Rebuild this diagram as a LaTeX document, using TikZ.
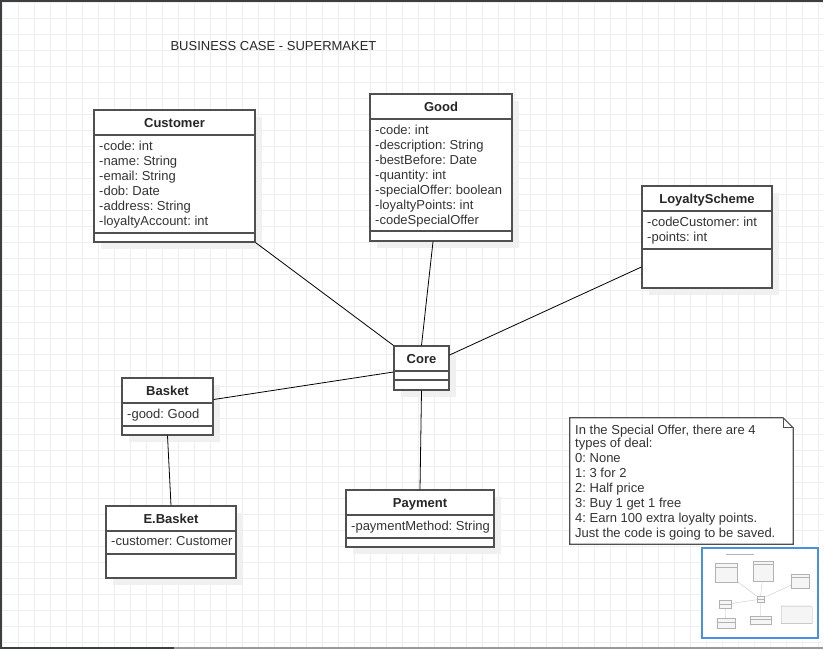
\documentclass[tikz,border=0pt]{standalone}
\usepackage{fontspec}
\setmainfont{Liberation Sans}
\usetikzlibrary{fit,calc,shadows}
\frenchspacing

\definecolor{gridgray}{RGB}{238,238,238}
\definecolor{linegray}{RGB}{80,80,80}
\definecolor{textgray}{RGB}{51,51,51}
\definecolor{shadegray}{RGB}{240,240,240}
\definecolor{framegray}{RGB}{60,63,66}
\definecolor{viewblue}{RGB}{74,144,226}

% name, left, right, top, header line, separator, bottom, title, attributes
\newcommand{\umlclass}[9]{%
  \node[classbox, fit={(#2,#4) (#3,#7)}] (#1) {};
  \draw[classline] (#2,#5) -- (#3,#5) (#2,#6) -- (#3,#6);
  \node[classtitle] (#1-title) at ({(#2+#3)/2},{(#4+#5)/2}) {#8};
  \node[classattr] (#1-attr) at ({#2+5},{#5+5.5}) {#9};
}

\begin{document}
\begin{tikzpicture}[x=1pt,y=-1pt,
    classbox/.style={draw=linegray, line width=1.2pt, fill=white, inner sep=0pt,
      drop shadow={shadow xshift=7pt, shadow yshift=-7pt, fill=shadegray, opacity=1}},
    classline/.style={draw=linegray, line width=1.2pt},
    classtitle/.style={font=\fontsize{13}{15}\selectfont\bfseries, text=black!85,
      text height=9.4pt, text depth=0pt, inner sep=0pt},
    classattr/.style={font=\fontsize{13}{15}\selectfont, text=textgray,
      anchor=north west, align=left, inner sep=0pt},
    link/.style={draw=black, line width=0.8pt},
    gridline/.style={draw=gridgray, line width=0.8pt},
    minibox/.style={draw=black!30, fill=black!4, line width=0.3pt},
    minilink/.style={draw=black!25, line width=0.3pt}]

    \useasboundingbox (0,0) rectangle (840,649);
    \fill[white] (0,0) rectangle (840,649);

    \foreach \gx in {2,18,...,818} \draw[gridline] (\gx,2) -- (\gx,647);
    \foreach \gy in {2,18,...,642} \draw[gridline] (2,\gy) -- (823,\gy);
    \fill[framegray] (0,0) rectangle (823,2);
    \fill[framegray] (0,0) rectangle (2,649);
    \fill[black!40] (2,647) rectangle (823,649);
    \fill[framegray] (0,647) rectangle (174,649);

    \node[font=\fontsize{13}{15}\selectfont, text=black!85, inner sep=0pt] (title) at (273.5,46) {BUSINESS CASE - SUPERMAKET};

    \umlclass{customer}{94}{255}{110}{135}{233}{242}{Customer}{-code: int\\-name: String\\-email: String\\-dob: Date\\-address: String\\-loyaltyAccount: int}
    \umlclass{good}{370}{512}{94}{119}{231}{241}{Good}{-code: int\\-description: String\\-bestBefore: Date\\-quantity: int\\-specialOffer: boolean\\-loyaltyPoints: int\\-codeSpecialOffer}
    \umlclass{loyalty}{642}{772}{186}{211}{249}{288}{LoyaltyScheme}{-codeCustomer: int\\-points: int}
    \umlclass{core}{394}{449}{346}{371}{380}{390}{Core}{}
    \umlclass{basket}{122}{213}{378}{403}{426}{435}{Basket}{-good: Good}
    \umlclass{ebasket}{106}{236}{506}{531}{554}{578}{E.Basket}{-customer: Customer}
    \umlclass{payment}{346}{494}{490}{515}{538}{547}{Payment}{-paymentMethod: String}

    \draw[link] (customer.south east) -- (core.north west);
    \draw[link] ([xshift=-8pt]good.south) -- (core.north);
    \draw[link] ([yshift=-30pt]loyalty.west) -- ([yshift=13pt]core.east);
    \draw[link] ([yshift=7pt]basket.east) -- ([yshift=-4pt]core.west);
    \draw[link] (basket.south) -- (ebasket.north);
    \draw[link] (core.south) -- (payment.north);

    \node[inner sep=0pt, fit={(570,418) (793,544)}] (notebox) {};
    \draw[classline, fill=white] (notebox.north west) -- ([xshift=-10pt]notebox.north east)
      -- ([yshift=-10pt]notebox.north east) -- (notebox.south east) -- (notebox.south west) -- cycle;
    \draw[draw=linegray, line width=0.8pt] ([xshift=-10pt]notebox.north east) |- ([yshift=-10pt]notebox.north east);
    \node[classattr] (note) at (575,424.5) {In the Special Offer, there are 4\\[-2pt]types of deal:\\0: None\\1: 3 for 2\\2: Half price\\3: Buy 1 get 1 free\\4: Earn 100 extra loyalty points.\\Just the code is going to be saved.};

    \fill[white] (700,545) rectangle (822,641);
    \begin{scope}[shift={(702,548)}, scale=0.139]
        \foreach \l/\r/\t/\h/\b in {94/255/110/135/242, 370/512/94/119/241, 642/772/186/211/288,
          394/449/346/371/390, 122/213/378/403/435, 106/236/506/531/578, 346/494/490/515/547}
          \draw[minibox] (\l,\t) rectangle (\r,\b) (\l,\h) -- (\r,\h);
        \draw[minilink] (255,242) -- (394,346) (433,241) -- (421,346) (642,267) -- (449,355)
          (213,399) -- (394,372) (168,435) -- (170,506) (421,390) -- (420,490);
        \draw[minibox] (570,418) -- (783,418) -- (793,428) -- (793,544) -- (570,544) -- cycle;
        \draw[draw=black!30, line width=0.5pt] (171,46) -- (376,46);
    \end{scope}
    \draw[viewblue, line width=1.2pt] (702,548) rectangle (818,638);
\end{tikzpicture}
\end{document}
